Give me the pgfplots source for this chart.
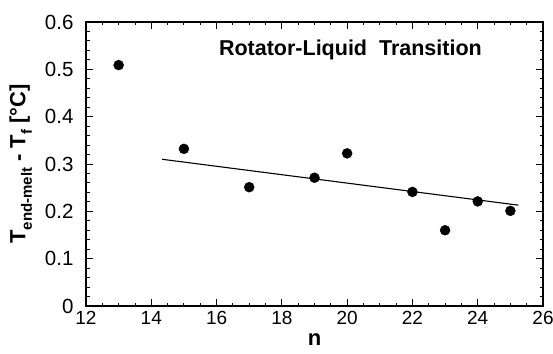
\documentclass[border=0pt]{standalone}
\usepackage{fontspec}
\setmainfont{Liberation Sans}
\usepackage{pgfplots}
\pgfplotsset{compat=1.18}
\begin{document}
\begin{tikzpicture}
\useasboundingbox (-86pt,-47pt) rectangle (467pt,306pt);
\begin{axis}[
  at={(0pt,0pt)}, anchor=origin,
  scale only axis, width=457pt, height=284pt,
  xmin=12, xmax=26, ymin=0, ymax=0.6,
  xtick={12,14,...,26},
  ytick={0,0.1,...,0.6},
  minor x tick num=3, minor y tick num=4,
  tick align=inside,
  major tick length=7pt, minor tick length=3.5pt,
  every tick/.style={black, line width=0.9pt},
  axis line style={line width=1.1pt},
  /pgf/number format/assume math mode=true,
  yticklabel style={/pgf/number format/fixed, /pgf/number format/precision=1, xshift=-9pt, font=\fontsize{20.5}{24}\selectfont},
  xticklabel style={yshift=-2pt, font=\fontsize{19}{22}\selectfont},
  xlabel={\textbf{n}},
  ylabel={\textbf{T\raisebox{-0.3em}{\fontsize{15}{17}\selectfont end-melt} - T\raisebox{-0.3em}{\fontsize{15}{17}\selectfont f} [°C]}},
  label style={font=\fontsize{22}{24}\selectfont\bfseries},
  xlabel style={yshift=-2pt},
  ylabel style={yshift=6pt},
  clip=false,
]
\addplot[only marks, mark=*, mark size=5pt, black] coordinates {
  (13,0.509) (15,0.332) (17,0.251) (19,0.271) (20,0.3225)
  (22,0.241) (23,0.160) (24,0.221) (25,0.201)
};
\addplot[black, line width=1.1pt] coordinates {(14.33,0.310) (25.25,0.213)};
\node[font=\fontsize{21.5}{24}\selectfont\bfseries] at (axis cs:20.1,0.541) {Rotator-Liquid\ \ Transition};
\end{axis}
\end{tikzpicture}
\end{document}
